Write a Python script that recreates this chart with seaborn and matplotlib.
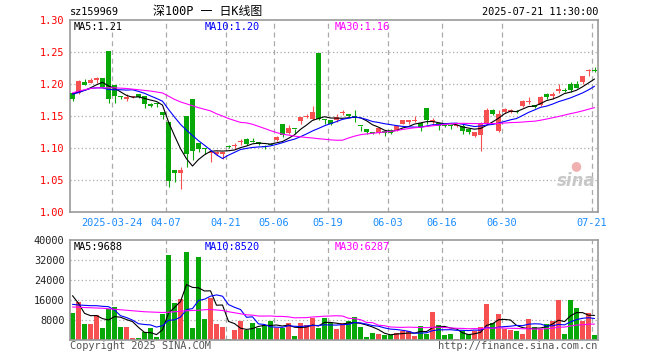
import numpy as np
import pandas as pd
import matplotlib
matplotlib.use("Agg")
import matplotlib.pyplot as plt
import seaborn as sns

# ---------------- data ----------------
open_ = [1.186, 1.186, 1.2036, 1.202, 1.207, 1.210, 1.252, 1.198, 1.182, 1.1766,
         1.180, 1.184, 1.181, 1.169, 1.170, 1.156, 1.141, 1.065, 1.061, 1.150,
         1.177, 1.108, 1.099, 1.0915, 1.091, 1.090, 1.1025, 1.103, 1.109, 1.1135,
         1.1105, 1.109, 1.103, 1.1055, 1.113, 1.138, 1.124, 1.130, 1.142, 1.149,
         1.146, 1.249, 1.1445, 1.143, 1.144, 1.1545, 1.1535, 1.149, 1.1345, 1.129,
         1.1255, 1.1235, 1.127, 1.1285, 1.1285, 1.138, 1.1405, 1.1425, 1.139, 1.163,
         1.140, 1.139, 1.136, 1.1355, 1.1345, 1.134, 1.1295, 1.118, 1.120, 1.1395,
         1.160, 1.126, 1.156, 1.156, 1.158, 1.1656, 1.1725, 1.167, 1.1677, 1.184,
         1.181, 1.189, 1.190, 1.1995, 1.1995, 1.203, 1.221, 1.221]
high = [1.188, 1.207, 1.208, 1.209, 1.211, 1.210, 1.252, 1.199, 1.182, 1.185,
        1.181, 1.185, 1.182, 1.170, 1.171, 1.157, 1.141, 1.065, 1.070, 1.150,
        1.177, 1.108, 1.100, 1.095, 1.095, 1.094, 1.104, 1.108, 1.114, 1.116,
        1.1155, 1.109, 1.104, 1.108, 1.119, 1.138, 1.136, 1.130, 1.148, 1.1535,
        1.1655, 1.249, 1.145, 1.143, 1.1525, 1.159, 1.1535, 1.160, 1.1345, 1.129,
        1.1255, 1.1315, 1.1285, 1.1295, 1.136, 1.1445, 1.143, 1.1505, 1.139, 1.163,
        1.147, 1.139, 1.136, 1.1355, 1.136, 1.137, 1.1295, 1.1255, 1.141, 1.163,
        1.1615, 1.160, 1.163, 1.161, 1.1595, 1.1745, 1.1795, 1.167, 1.181, 1.1865,
        1.1875, 1.2005, 1.1935, 1.2025, 1.2045, 1.213, 1.2235, 1.227]
low = [1.173, 1.184, 1.198, 1.201, 1.202, 1.194, 1.171, 1.171, 1.176, 1.174,
       1.178, 1.178, 1.162, 1.164, 1.164, 1.145, 1.039, 1.047, 1.036, 1.070,
       1.082, 1.094, 1.091, 1.078, 1.089, 1.083, 1.100, 1.099, 1.105, 1.104,
       1.109, 1.105, 1.0985, 1.104, 1.111, 1.117, 1.1225, 1.124, 1.137, 1.147,
       1.143, 1.143, 1.137, 1.1355, 1.141, 1.1515, 1.148, 1.141, 1.1265, 1.122,
       1.1215, 1.1225, 1.119, 1.1225, 1.1265, 1.137, 1.138, 1.1405, 1.1265, 1.138,
       1.138, 1.1275, 1.133, 1.130, 1.133, 1.1225, 1.1225, 1.1165, 1.095, 1.138,
       1.152, 1.125, 1.1545, 1.1545, 1.1545, 1.164, 1.169, 1.162, 1.1656, 1.177,
       1.177, 1.1865, 1.187, 1.188, 1.193, 1.2005, 1.212, 1.219]
close = [1.176, 1.204, 1.199, 1.207, 1.208, 1.195, 1.176, 1.181, 1.179, 1.180,
         1.1805, 1.179, 1.169, 1.166, 1.169, 1.152, 1.048, 1.061, 1.065, 1.090,
         1.095, 1.099, 1.098, 1.092, 1.094, 1.093, 1.1015, 1.104, 1.110, 1.107,
         1.110, 1.107, 1.1015, 1.105, 1.117, 1.120, 1.132, 1.129, 1.148, 1.150,
         1.157, 1.146, 1.1435, 1.138, 1.149, 1.1555, 1.150, 1.148, 1.134, 1.1255,
         1.124, 1.1315, 1.124, 1.1235, 1.134, 1.143, 1.143, 1.1435, 1.1325, 1.144,
         1.144, 1.134, 1.134, 1.134, 1.136, 1.1265, 1.125, 1.1255, 1.1395, 1.160,
         1.1535, 1.1535, 1.161, 1.160, 1.156, 1.1734, 1.1735, 1.164, 1.1797, 1.1797,
         1.185, 1.1917, 1.1895, 1.1905, 1.1945, 1.212, 1.2215, 1.2205]
volume = [10920, 15200, 6400, 6400, 10000, 4800, 12400, 13200, 5200, 5200,
          800, 800, 3200, 4800, 1200, 10400, 34000, 14800, 16400, 35200,
          4800, 33200, 8400, 16800, 6400, 5200, 400, 4000, 7600, 4000,
          6800, 4800, 6000, 7600, 4800, 4800, 6800, 1600, 6800, 6000,
          8800, 4800, 8800, 6800, 4400, 6800, 7600, 9200, 5200, 1200,
          2800, 2400, 2000, 2000, 2800, 3600, 3600, 1600, 5600, 2400,
          11200, 6000, 2000, 2400, 400, 3600, 2400, 3600, 5200, 14400,
          6800, 10400, 4400, 4000, 3600, 2400, 8400, 5200, 4400, 6400,
          7600, 16000, 2400, 16000, 12800, 7600, 10800, 2000]

# moving-average values at the start of the window (history not shown in chart)
ma5_head = [1.185, 1.188, 1.190, 1.194]
ma10_head = [1.184, 1.1865, 1.190, 1.193, 1.194, 1.194, 1.1915, 1.191, 1.191]
ma30_head = [1.186, 1.189, 1.191, 1.193, 1.194, 1.194, 1.194, 1.194, 1.1935, 1.193,
             1.192, 1.191, 1.190, 1.189, 1.1875, 1.186, 1.181, 1.176, 1.172, 1.169,
             1.166, 1.163, 1.1605, 1.158, 1.1535, 1.150, 1.146, 1.143, 1.140]
vma5_head = [17730, 14670, 10670, 9730]
vma10_head = [14270, 14000, 13870, 13730, 13730, 13470, 13330, 12000, 9730]
vma30_head = [13200, 13100, 13000, 12900, 12800, 12700, 12500, 12300, 12100, 11900,
              11700, 11500, 11300, 11200, 11100, 11000, 11100, 11300, 11500, 11700,
              11800, 11900, 12100, 12200, 12000, 11800, 11300, 10900, 10500]

tick_labels = ["2025-03-24", "04-07", "04-21", "05-06", "05-19",
               "06-03", "06-16", "06-30", "07-21"]
tick_slots = [7, 16, 26, 34, 43, 53, 62, 72, 87]

price_ticks = [1.00, 1.05, 1.10, 1.15, 1.20, 1.25, 1.30]
vol_ticks = [8000, 16000, 24000, 32000, 40000]

# ---------------- styling ----------------
sns.set_theme(style="white")
plt.rcParams["font.family"] = ["DejaVu Sans Mono", "Noto Sans CJK SC"]

RED = "#f65050"
GREEN = "#08a808"
GRID = "#aaaaaa"
FRAME = "#999999"
FS = 7.4
LW = 0.8

df = pd.DataFrame({"o": open_, "h": high, "l": low, "c": close, "v": volume})
df["i"] = np.arange(len(df))


def rolling_with_head(s, w, head):
    m = s.rolling(w).mean()
    m.iloc[:len(head)] = head
    return m


df["ma5"] = rolling_with_head(df["c"], 5, ma5_head)
df["ma10"] = rolling_with_head(df["c"], 10, ma10_head)
df["ma30"] = rolling_with_head(df["c"], 30, ma30_head)
df["vma5"] = rolling_with_head(df["v"], 5, vma5_head)
df["vma10"] = rolling_with_head(df["v"], 10, vma10_head)
df["vma30"] = rolling_with_head(df["v"], 30, vma30_head)

up = df["c"] >= df["o"]
colors = np.where(up, RED, GREEN)

W, H = 660, 360
fig = plt.figure(figsize=(6.6, 3.6), dpi=100, facecolor="white")
ax = fig.add_axes([70 / W, 1 - 212 / H, 528 / W, 192 / H])
axv = fig.add_axes([70 / W, 1 - 340 / H, 528 / W, 100 / H])

xlim = (-0.417, len(df) - 0.417)
grid_x = np.array(tick_slots) - 0.417

for a in (ax, axv):
    a.set_xlim(*xlim)
    a.set_facecolor("white")
    for sp in a.spines.values():
        sp.set_color(FRAME)
        sp.set_linewidth(1.2)
    a.tick_params(length=0)

# ---- main panel ----
ax.set_ylim(1.0, 1.3)
for y in price_ticks[1:-1]:
    ax.axhline(y, color=GRID, lw=0.9, ls=(0, (1, 2)), zorder=0)
for gx in grid_x:
    ax.axvline(gx, color=GRID, lw=0.9, ls=(0, (4, 3)), zorder=0)

ax.vlines(df["i"], df["l"], df["h"], colors=colors, lw=LW, zorder=2)
body_bottom = np.minimum(df["o"], df["c"])
body_h = np.maximum(np.abs(df["c"] - df["o"]), 0.0016)
ax.bar(df["i"], body_h, bottom=body_bottom, width=0.8, color=colors,
       linewidth=0, zorder=3)

sns.lineplot(data=df, x="i", y="ma5", ax=ax, color="black", lw=LW, zorder=4, legend=False)
sns.lineplot(data=df, x="i", y="ma10", ax=ax, color="#0000ff", lw=LW, zorder=4, legend=False)
sns.lineplot(data=df, x="i", y="ma30", ax=ax, color="#ff00ff", lw=LW, zorder=4, legend=False)

ax.set_yticks(price_ticks)
ax.set_yticklabels([f"{p:.2f}" for p in price_ticks], color="#ff0000", fontsize=FS)
ax.set_xticks(grid_x)
ax.set_xticklabels(tick_labels, color="#1a8cff", fontsize=FS)
ax.tick_params(axis="y", pad=4)
ax.tick_params(axis="x", pad=4)
ax.set_xlabel("")
ax.set_ylabel("")

# ---- volume panel ----
axv.set_ylim(0, 40000)
for y in vol_ticks[:-1]:
    axv.axhline(y, color=GRID, lw=0.9, ls=(0, (1, 2)), zorder=0)
for gx in grid_x:
    axv.axvline(gx, color=GRID, lw=0.9, ls=(0, (4, 3)), zorder=0)
axv.bar(df["i"], df["v"], width=0.83, color=colors, linewidth=0, zorder=2)
sns.lineplot(data=df, x="i", y="vma5", ax=axv, color="black", lw=LW, zorder=4, legend=False)
sns.lineplot(data=df, x="i", y="vma10", ax=axv, color="#0000ff", lw=LW, zorder=4, legend=False)
sns.lineplot(data=df, x="i", y="vma30", ax=axv, color="#ff00ff", lw=LW, zorder=4, legend=False)
axv.set_yticks(vol_ticks)
axv.set_yticklabels([str(v) for v in vol_ticks], color="#222222", fontsize=FS)
axv.set_xticks([])
axv.tick_params(axis="y", pad=4)
axv.set_xlabel("")
axv.set_ylabel("")


def ftxt(x, y, s, **kw):
    fig.text(x / W, 1 - y / H, s, va="center", **kw)


# ---- header ----
ftxt(70, 12, "sz159969", ha="left", fontsize=FS, color="black")
ftxt(208, 12, "深100P 一 日K线图", ha="center", fontsize=8.6, color="black")
ftxt(598, 12, "2025-07-21 11:30:00", ha="right", fontsize=FS, color="black")

# ---- legends ----
last = df.iloc[-1]
ftxt(74, 27, f"MA5:{last['ma5']:.2f}", ha="left", fontsize=FS, color="black")
ftxt(205, 27, f"MA10:{last['ma10']:.2f}", ha="left", fontsize=FS, color="#0000ff")
ftxt(335, 27, f"MA30:{last['ma30']:.2f}", ha="left", fontsize=FS, color="#ff00ff")
ftxt(74, 247, "MA5:9688", ha="left", fontsize=FS, color="black")
ftxt(205, 247, "MA10:8520", ha="left", fontsize=FS, color="#0000ff")
ftxt(335, 247, "MA30:6287", ha="left", fontsize=FS, color="#ff00ff")

# ---- footer ----
ftxt(70, 346, "Copyright 2025 SINA.COM", ha="left", fontsize=FS, color="#555555")
ftxt(597, 346, "http://finance.sina.com.cn", ha="right", fontsize=FS, color="#555555")

# ---- watermark ----
ftxt(576, 166, "●", ha="center", fontsize=9, color="#f0b0b0", family="DejaVu Sans")
ftxt(576, 181, "sina", ha="center", fontsize=12, color="#c8c8c8",
     fontweight="bold", style="italic", family="DejaVu Sans")

fig.savefig("out.png", dpi=100, facecolor="white")
